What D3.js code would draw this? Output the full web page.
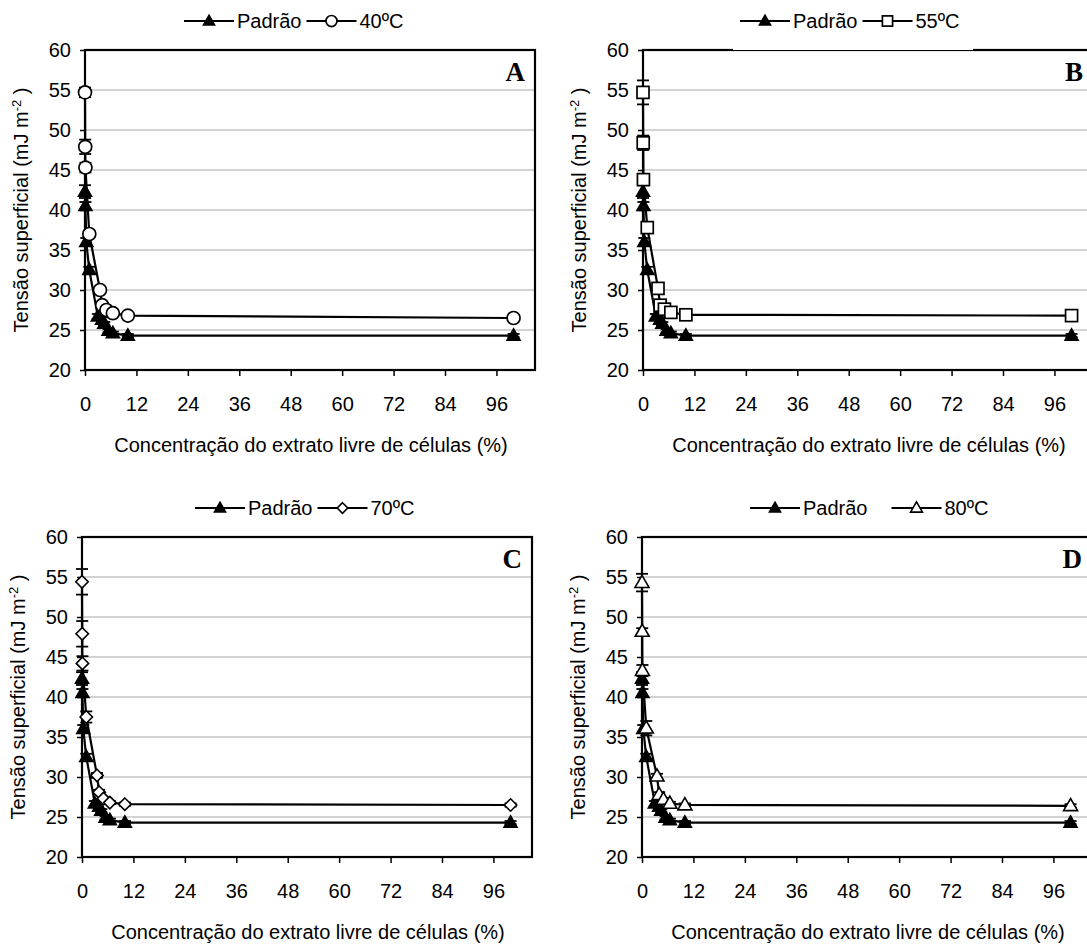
<!DOCTYPE html>
<html><head><meta charset="utf-8">
<script src="https://cdn.jsdelivr.net/npm/d3@7"></script>
<style>
html,body{margin:0;padding:0;background:#fff;}
text{font-family:"Liberation Sans",Arial,sans-serif;fill:#000;}
text.letter{font-family:"Liberation Serif","Times New Roman",serif;font-weight:bold;}
</style></head>
<body>
<svg id="c" width="1087" height="945"></svg>
<script>
// ---- data ----
const xTicks = [0, 12, 24, 36, 48, 60, 72, 84, 96];
const yTicks = [20, 25, 30, 35, 40, 45, 50, 55, 60];
const padraoX   = [0, 0.1, 0.3, 1, 3, 4, 4.5, 5.5, 6.5, 10, 100];
const padraoY   = [42.3, 40.5, 36.0, 32.5, 26.7, 26.3, 25.8, 24.9, 24.6, 24.3, 24.3];
const padraoErr = [0.8, 0.5, 0.5, 0.4, 0.3, 0.3, 0.2, 0.2, 0.2, 0.2, 0.2];
const testX   = [0, 0.05, 0.1, 1, 3.5, 4, 5, 6.5, 10, 100];
const t40Y    = [54.7, 47.9, 45.3, 37.0, 30.0, 28.1, 27.5, 27.1, 26.8, 26.5];
const t40Err  = [0.6, 0.9, 0.6, 0.4, 0.3, 0.3, 0.2, 0.2, 0.2, 0.2];
const t55Y    = [54.7, 48.4, 43.8, 37.8, 30.2, 28.1, 27.6, 27.2, 26.9, 26.8];
const t55Err  = [1.5, 0.9, 0.5, 0.4, 0.3, 0.3, 0.2, 0.2, 0.2, 0.2];
const t70Y    = [54.4, 47.9, 44.2, 37.5, 30.2, 28.1, 27.3, 26.8, 26.6, 26.5];
const t70Err  = [1.6, 1.6, 0.9, 0.7, 0.3, 0.3, 0.2, 0.2, 0.2, 0.2];
const t80Y    = [54.3, 48.2, 43.3, 36.1, 30.1, 27.8, 27.2, 26.7, 26.5, 26.4];
const t80Err  = [1.1, 0.4, 0.7, 0.9, 0.3, 0.3, 0.2, 0.2, 0.2, 0.2];
const seriesNames = ["Padrão", "40ºC", "55ºC", "70ºC", "80ºC"];
const panelLetters = ["A", "B", "C", "D"];
const xTitle = "Concentração do extrato livre de células (%)";

// ---- layout ----
const panels = [
  {L:panelLetters[0], x0:85,  y0:50,  name:seriesNames[1], ys:t40Y, err:t40Err, sym:"circle",  lx:184, lgap:5,  clip:null},
  {L:panelLetters[1], x0:643, y0:50,  name:seriesNames[2], ys:t55Y, err:t55Err, sym:"square",  lx:740, lgap:5,  clip:[733,973]},
  {L:panelLetters[2], x0:82,  y0:537, name:seriesNames[3], ys:t70Y, err:t70Err, sym:"diamond", lx:195, lgap:5,  clip:null},
  {L:panelLetters[3], x0:642, y0:537, name:seriesNames[4], ys:t80Y, err:t80Err, sym:"otri",    lx:750, lgap:24, clip:null}
];
const W = 450, H = 320, FS = 20;
const svg = d3.select("#c");

function marker(g, type, cx, cy, s) {
  s = s || 1;
  if (type === "tri" || type === "otri") {
    const w = (type === "tri" ? 13 : 14) * s, h = w * 0.87;
    g.append("path")
      .attr("d", `M${cx},${cy - h*0.6}L${cx + w/2},${cy + h*0.4}L${cx - w/2},${cy + h*0.4}Z`)
      .attr("fill", type === "tri" ? "#000" : "#fff").attr("stroke", "#000").attr("stroke-width", 1.6);
  } else if (type === "circle") {
    g.append("circle").attr("cx", cx).attr("cy", cy).attr("r", 6.5 * s)
      .attr("fill", "#fff").attr("stroke", "#000").attr("stroke-width", 1.7);
  } else if (type === "square") {
    const a = 12 * s;
    g.append("rect").attr("x", cx - a/2).attr("y", cy - a/2).attr("width", a).attr("height", a)
      .attr("fill", "#fff").attr("stroke", "#000").attr("stroke-width", 1.7);
  } else if (type === "diamond") {
    const a = 6.2 * s;
    g.append("path").attr("d", `M${cx},${cy - a}L${cx + a},${cy}L${cx},${cy + a}L${cx - a},${cy}Z`)
      .attr("fill", "#fff").attr("stroke", "#000").attr("stroke-width", 1.6);
  }
}

panels.forEach(p => {
  const x = d3.scaleLinear().domain([0, 105]).range([p.x0, p.x0 + W]);
  const y = d3.scaleLinear().domain([20, 60]).range([p.y0 + H, p.y0]);
  const g = svg.append("g");

  // gridlines
  g.selectAll(".grid").data(yTicks.filter(v => v > 20 && v < 60)).enter().append("line")
    .attr("x1", p.x0).attr("x2", p.x0 + W).attr("y1", d => y(d)).attr("y2", d => y(d))
    .attr("stroke", "#c4c4c4").attr("stroke-width", 1.3);

  // axes
  const ay = g.append("g").attr("transform", `translate(${p.x0},0)`)
    .call(d3.axisLeft(y).tickValues(yTicks).tickSize(5).tickPadding(9));
  const ax = g.append("g").attr("transform", `translate(0,${p.y0 + H})`)
    .call(d3.axisBottom(x).tickValues(xTicks).tickSize(6).tickPadding(21));
  [ay, ax].forEach(a => {
    a.select(".domain").remove();
    a.selectAll(".tick line").attr("stroke", "#000").attr("stroke-width", 1.5);
    a.selectAll(".tick text").attr("font-size", FS);
  });

  // border
  g.append("rect").attr("x", p.x0).attr("y", p.y0).attr("width", W).attr("height", H)
    .attr("fill", "none").attr("stroke", "#000").attr("stroke-width", 2.2);

  // series
  const line = d3.line().x(d => x(d[0])).y(d => y(d[1]));
  const pad = padraoX.map((v, i) => [v, padraoY[i], padraoErr[i]]);
  const tst = testX.map((v, i) => [v, p.ys[i], p.err[i]]);
  [[pad, "tri"], [tst, p.sym]].forEach(([data, sym]) => {
    g.append("path").datum(data).attr("d", line).attr("fill", "none")
      .attr("stroke", "#000").attr("stroke-width", 2.2);
    data.forEach(d => {
      const cx = x(d[0]), t = y(d[1] + d[2]), b = y(d[1] - d[2]);
      g.append("line").attr("x1", cx).attr("x2", cx).attr("y1", t).attr("y2", b).attr("stroke", "#000").attr("stroke-width", 1.8);
      [t, b].forEach(yy => g.append("line").attr("x1", cx - 6).attr("x2", cx + 6).attr("y1", yy).attr("y2", yy)
        .attr("stroke", "#000").attr("stroke-width", 1.8));
    });
    data.forEach(d => marker(g, sym, x(d[0]), y(d[1])));
  });

  // legend
  const ly = p.y0 - 29;
  if (p.clip) {
    g.append("rect").attr("x", p.clip[0]).attr("y", ly - 14).attr("width", p.clip[1] - p.clip[0])
      .attr("height", p.y0 - (ly - 14)).attr("fill", "#fff");
  }
  let lx = p.lx;
  [["tri", seriesNames[0]], [p.sym, p.name]].forEach(([sym, name], k) => {
    g.append("line").attr("x1", lx).attr("x2", lx + 50).attr("y1", ly).attr("y2", ly)
      .attr("stroke", "#000").attr("stroke-width", 2);
    marker(g, sym, lx + 25, ly, 0.85);
    const t = g.append("text").attr("x", lx + 53).attr("y", ly).attr("dy", "0.35em")
      .attr("font-size", FS).text(name);
    const w = t.node().getComputedTextLength();
    lx = lx + 53 + w + (k === 0 ? p.lgap : 0);
  });

  // panel letter
  g.append("text").attr("class", "letter").attr("x", p.x0 + W - 10).attr("y", p.y0 + 31).attr("text-anchor", "end")
    .attr("font-size", 27).text(p.L);

  // y title
  const yt = g.append("text").attr("transform", `translate(${p.x0 - 64},${p.y0 + H/2}) rotate(-90)`)
    .attr("text-anchor", "middle").attr("dy", "0.35em").attr("font-size", FS);
  yt.append("tspan").text("Tensão superficial (mJ m");
  yt.append("tspan").attr("font-size", 13).attr("dy", "-0.55em").text("-2");
  yt.append("tspan").attr("dy", "0.35em").text(" )");

  // x title
  g.append("text").attr("x", p.x0 + 226).attr("y", p.y0 + H + 82).attr("text-anchor", "middle")
    .attr("font-size", FS).text(xTitle);
});
</script>
</body></html>
